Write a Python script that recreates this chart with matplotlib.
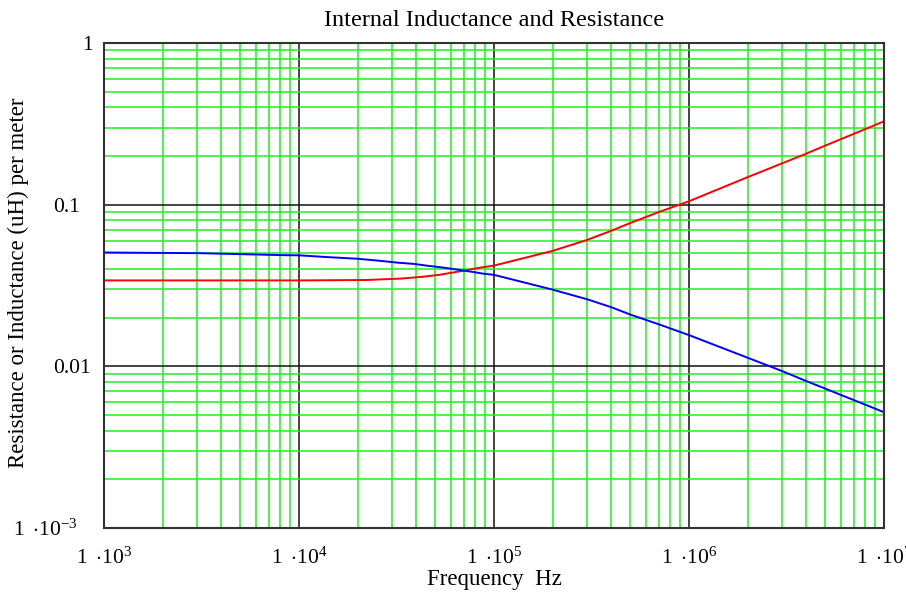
import matplotlib
matplotlib.use("Agg")
import matplotlib.pyplot as plt
from matplotlib.ticker import LogLocator, NullFormatter
from matplotlib.transforms import ScaledTranslation

plt.rcParams['font.family'] = ['Liberation Serif', 'DejaVu Serif']
plt.rcParams['mathtext.fontset'] = 'custom'
plt.rcParams['mathtext.rm'] = 'Liberation Serif'
plt.rcParams['mathtext.it'] = 'Liberation Serif:italic'

# Frequencies (Hz) and values
freq_L = [1e3, 3.1e3, 8.4e3, 1e4, 1.39e4, 1.99e4, 2.58e4, 3.19e4, 3.9e4, 4.55e4,
          5.24e4, 6.11e4, 6.88e4, 7.75e4, 8.72e4, 1e5, 2e5, 3e5, 4e5,
          5e5, 7e5, 1e6, 2e6, 3e6, 4e6, 5e6, 6e6, 8e6, 1e7]
inductance = [0.0506, 0.0501, 0.0487, 0.0486, 0.0474, 0.0463, 0.0450, 0.0438, 0.0430,
              0.0419, 0.0411, 0.0401, 0.0392, 0.0384, 0.0375, 0.0368, 0.0298, 0.0260,
              0.0232, 0.0209, 0.0182, 0.0156, 0.0113, 0.00935, 0.0081, 0.00728,
              0.00666, 0.0058, 0.0052]

freq_R = [1e3, 1e4, 2.21e4, 3.34e4, 4.29e4, 5.24e4, 6.11e4, 7.2e4, 8.4e4, 1e5,
          2e5, 3e5, 4e5, 5e5, 7e5, 1e6, 2e6, 3e6, 4e6, 5e6,
          6e6, 8e6, 1e7]
resistance = [0.0340, 0.0340, 0.0342, 0.0349, 0.0358, 0.0368, 0.0380, 0.0393, 0.0407,
              0.0420, 0.0518, 0.0605, 0.0690, 0.0770, 0.0900, 0.105, 0.148, 0.180,
              0.207, 0.232, 0.254, 0.293, 0.328]

x_ticks = [1e3, 1e4, 1e5, 1e6, 1e7]
x_ticklabels = [r'$1\ \cdot\!10^{3}$', r'$1\ \cdot\!10^{4}$', r'$1\ \cdot\!10^{5}$',
                r'$1\ \cdot\!10^{6}$', r'$1\ \cdot\!10^{7}$']
y_ticks = [1e-3, 1e-2, 1e-1, 1]
y_ticklabels = [r'$1\ \cdot\!10^{-3}$', '0.01', '0.1', '1']

W, H = 906, 593
fig = plt.figure(figsize=(W / 100, H / 100), dpi=100)
ax = fig.add_axes([104/W, 1-528/H, (884-104)/W, (528-43)/H])

ax.set_xscale('log')
ax.set_yscale('log')
ax.set_xlim(1e3, 1e7)
ax.set_ylim(1e-3, 1)

# grid lines
ax.xaxis.set_minor_locator(LogLocator(base=10, subs=range(2, 10), numticks=20))
ax.yaxis.set_minor_locator(LogLocator(base=10, subs=range(2, 10), numticks=20))
ax.xaxis.set_minor_formatter(NullFormatter())
ax.yaxis.set_minor_formatter(NullFormatter())
ax.grid(which='minor', color='#1ef01e', linewidth=1.1)
ax.grid(which='major', color='#111111', linewidth=1.1)
ax.set_axisbelow(True)

ax.set_xticks(x_ticks)
ax.set_xticklabels(x_ticklabels)
ax.set_yticks(y_ticks)
ax.set_yticklabels(y_ticklabels)
ax.tick_params(which='both', length=0, labelsize=15.5, colors='black')
ax.tick_params(axis='x', pad=14)
ax.tick_params(axis='y', pad=8)

# per-label horizontal offsets (pixels) as in the reference
y_offsets = [-15, -2, -13, 0]
for lab, dx in zip(ax.get_yticklabels(), y_offsets):
    lab.set_transform(lab.get_transform() + ScaledTranslation(dx / 100, 0, fig.dpi_scale_trans))

ax.plot(freq_R, resistance, color='#ff0000', linewidth=1.4)
ax.plot(freq_L, inductance, color='#0000ff', linewidth=1.4)

for s in ax.spines.values():
    s.set_color('#333333')
    s.set_linewidth(1.5)

fig.text(494/W, 1-21/H, 'Internal Inductance and Resistance', fontsize=17.5,
         ha='center', va='center')
fig.text(494/W, 1-580/H, 'Frequency  Hz', fontsize=16.5, ha='center', va='center')
fig.text(18/W, 1-283/H, 'Resistance or Inductance (uH) per meter', fontsize=16.5,
         ha='center', va='center', rotation=90)

fig.savefig('out.png', dpi=100)
